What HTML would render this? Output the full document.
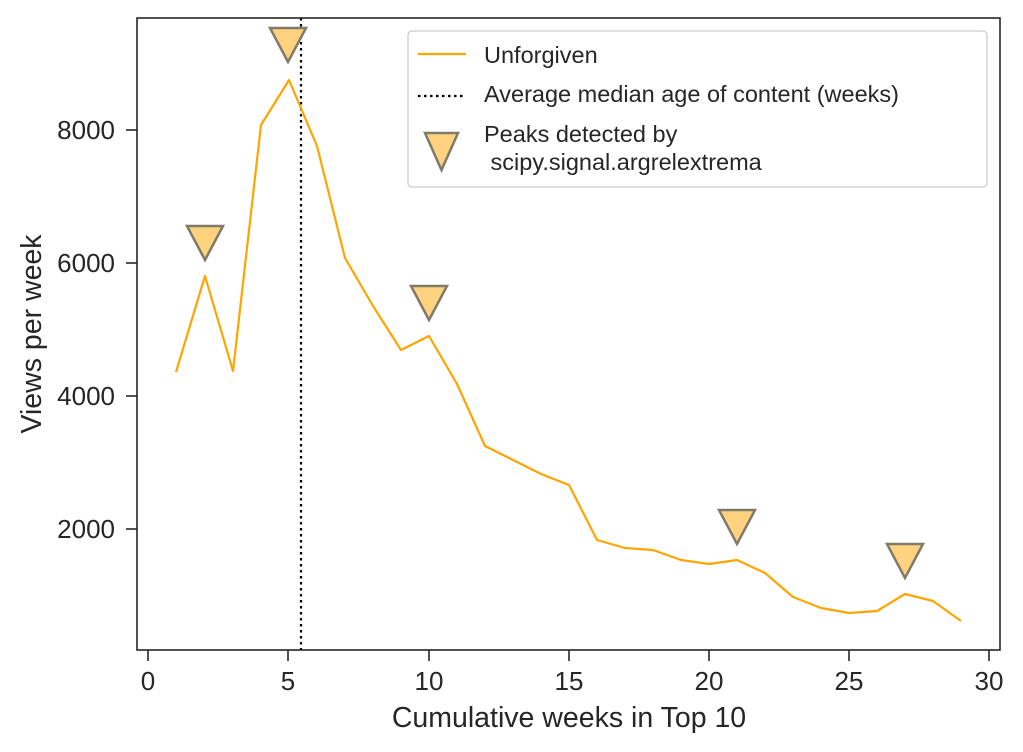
<!DOCTYPE html>
<html><head><meta charset="utf-8"><style>body{margin:0;background:#fff}svg{display:block}text{font-family:"Liberation Sans",sans-serif;fill:#262626}</style></head><body>
<svg width="1023" height="752" viewBox="0 0 1023 752">
<rect width="1023" height="752" fill="#fff"/>
<line x1="301" y1="18" x2="301" y2="650" stroke="#000" stroke-width="2.2" stroke-dasharray="2.5,3.5"/>
<polyline fill="none" stroke="#ffa500" stroke-width="2.2" stroke-linejoin="round" points="176,372 205,276 233,371 261,125 289,80 317,146 345,258 373,306 401,350 429,336 457,384 485,446 513,460 541,474 569,485 597,540 625,548 653,550 681,560 709,564 737,560 765,573 793,597 821,608 849,613 877,611 905,594 933,601 961,621"/>
<g fill="#ffd280" stroke="#7f7a6a" stroke-width="2.5" stroke-linejoin="miter">
<polygon points="187,226 223,226 205,260"/>
<polygon points="270,28 306,28 288,62"/>
<polygon points="411,286 447,286 429,320"/>
<polygon points="719,510 755,510 737,544"/>
<polygon points="887,544 923,544 905,578"/>
</g>
<rect x="137" y="18" width="863" height="632" fill="none" stroke="#262626" stroke-width="1.6"/>
<g stroke="#262626" stroke-width="1.6">
<line x1="148" y1="650" x2="148" y2="661"/><line x1="288" y1="650" x2="288" y2="661"/><line x1="429" y1="650" x2="429" y2="661"/><line x1="569" y1="650" x2="569" y2="661"/><line x1="709" y1="650" x2="709" y2="661"/><line x1="849" y1="650" x2="849" y2="661"/><line x1="989" y1="650" x2="989" y2="661"/>
<line x1="126" y1="130" x2="137" y2="130"/><line x1="126" y1="263" x2="137" y2="263"/><line x1="126" y1="396" x2="137" y2="396"/><line x1="126" y1="529" x2="137" y2="529"/>
</g>
<g font-size="26" text-anchor="middle">
<text x="148" y="690">0</text><text x="288" y="690">5</text><text x="429" y="690">10</text><text x="569" y="690">15</text><text x="709" y="690">20</text><text x="849" y="690">25</text><text x="989" y="690">30</text>
</g>
<g font-size="26" text-anchor="end">
<text x="115" y="139">8000</text><text x="115" y="272">6000</text><text x="115" y="405">4000</text><text x="115" y="538">2000</text>
</g>
<text x="569" y="727" font-size="28.5" text-anchor="middle">Cumulative weeks in Top 10</text>
<text transform="translate(41,334) rotate(-90)" font-size="28.5" text-anchor="middle">Views per week</text>
<rect x="408" y="31" width="579" height="156" rx="4" fill="#fff" fill-opacity="0.8" stroke="#ccc" stroke-width="1.3"/>
<line x1="418" y1="54" x2="466" y2="54" stroke="#ffa500" stroke-width="2.2"/>
<line x1="418" y1="96" x2="466" y2="96" stroke="#000" stroke-width="2.2" stroke-dasharray="2.5,3.5"/>
<polygon points="425,133 458,133 441.5,170" fill="#ffd280" stroke="#7f7a6a" stroke-width="2.5"/>
<g font-size="23.5">
<text x="484" y="63">Unforgiven</text>
<text x="484" y="102">Average median age of content (weeks)</text>
<text x="484" y="142">Peaks detected by</text>
<text x="484" y="170" xml:space="preserve"> scipy.signal.argrelextrema</text>
</g>
</svg>
</body></html>
